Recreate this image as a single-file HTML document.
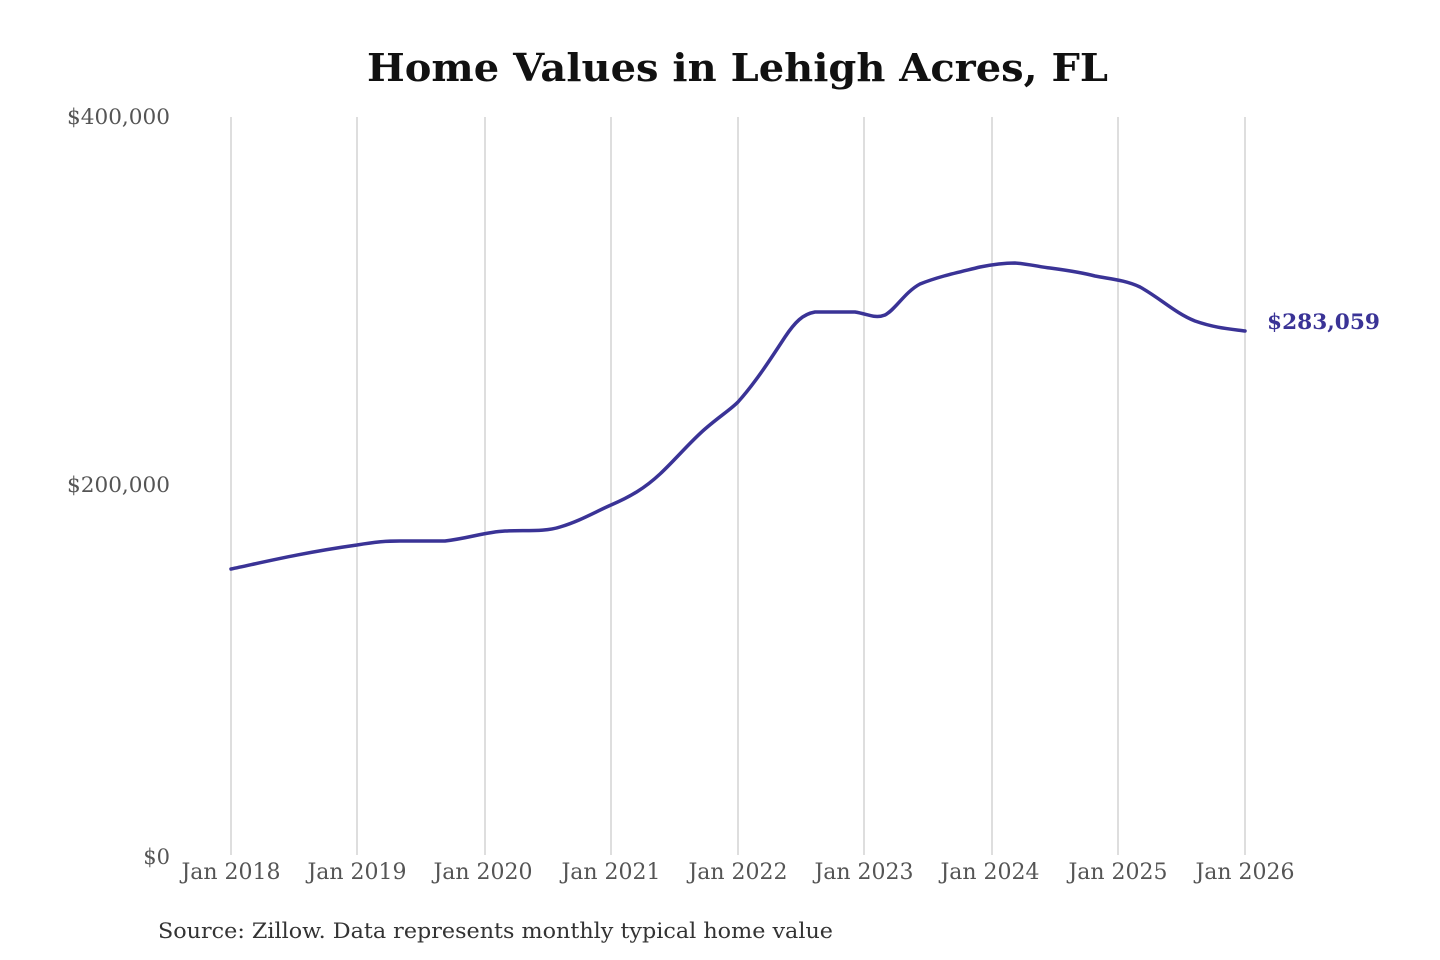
<!DOCTYPE html>
<html><head><style>
html,body{margin:0;padding:0;background:#fff;width:1440px;height:960px;overflow:hidden}
</style></head><body>
<svg width="1440" height="960" viewBox="0 0 1440 960" xmlns="http://www.w3.org/2000/svg" font-family="'DejaVu Serif','Liberation Serif',serif">
<text x="367" y="81" font-size="38" font-weight="bold" fill="#111" textLength="741" lengthAdjust="spacingAndGlyphs">Home Values in Lehigh Acres, FL</text>
<g stroke="#c8c8c8" stroke-width="1.2">
<line x1="231" y1="117" x2="231" y2="855"/><line x1="357" y1="117" x2="357" y2="855"/>
<line x1="485" y1="117" x2="485" y2="855"/><line x1="611" y1="117" x2="611" y2="855"/>
<line x1="738" y1="117" x2="738" y2="855"/><line x1="864" y1="117" x2="864" y2="855"/>
<line x1="992" y1="117" x2="992" y2="855"/><line x1="1118" y1="117" x2="1118" y2="855"/>
<line x1="1245" y1="117" x2="1245" y2="855"/>
</g>
<g font-size="21" fill="#555" text-anchor="end">
<text x="170" y="124" textLength="103" lengthAdjust="spacingAndGlyphs">$400,000</text>
<text x="170" y="492" textLength="103" lengthAdjust="spacingAndGlyphs">$200,000</text>
<text x="170" y="864">$0</text>
</g>
<g font-size="22" fill="#555" text-anchor="middle">
<text x="231" y="879">Jan 2018</text><text x="357" y="879">Jan 2019</text>
<text x="483" y="879">Jan 2020</text><text x="611" y="879">Jan 2021</text>
<text x="738" y="879">Jan 2022</text><text x="864" y="879">Jan 2023</text>
<text x="990" y="879">Jan 2024</text><text x="1118" y="879">Jan 2025</text>
<text x="1245" y="879">Jan 2026</text>
</g>
<path fill="none" stroke="#3a3396" stroke-width="3.5" stroke-linejoin="round" stroke-linecap="round"
d="M231,569 C260,563 300,553 357,545 C375,542 385,541 400,541 L445,541 C470,538 485,532 505,531 C525,530 545,532 560,527 C580,521 595,512 611,505 C630,497 645,488 660,474 C675,460 690,442 705,429 C720,416 730,410 738,402 C755,383 770,360 785,337 C795,322 803,314 815,312 L855,312 C868,314 875,319 885,315 C895,310 905,292 920,284 C940,276 960,272 980,267 C995,264 1005,263 1015,263 C1030,264 1040,267 1050,268 C1065,270 1080,272 1095,276 C1110,279 1125,280 1140,287 C1160,298 1175,313 1195,321 C1215,328 1230,329 1245,331"/>
<text x="1267" y="329" font-size="21" font-weight="bold" fill="#3a3396" textLength="113" lengthAdjust="spacingAndGlyphs">$283,059</text>
<text x="158" y="938" font-size="21" fill="#333" textLength="675" lengthAdjust="spacingAndGlyphs">Source: Zillow. Data represents monthly typical home value</text>
</svg>
</body></html>
